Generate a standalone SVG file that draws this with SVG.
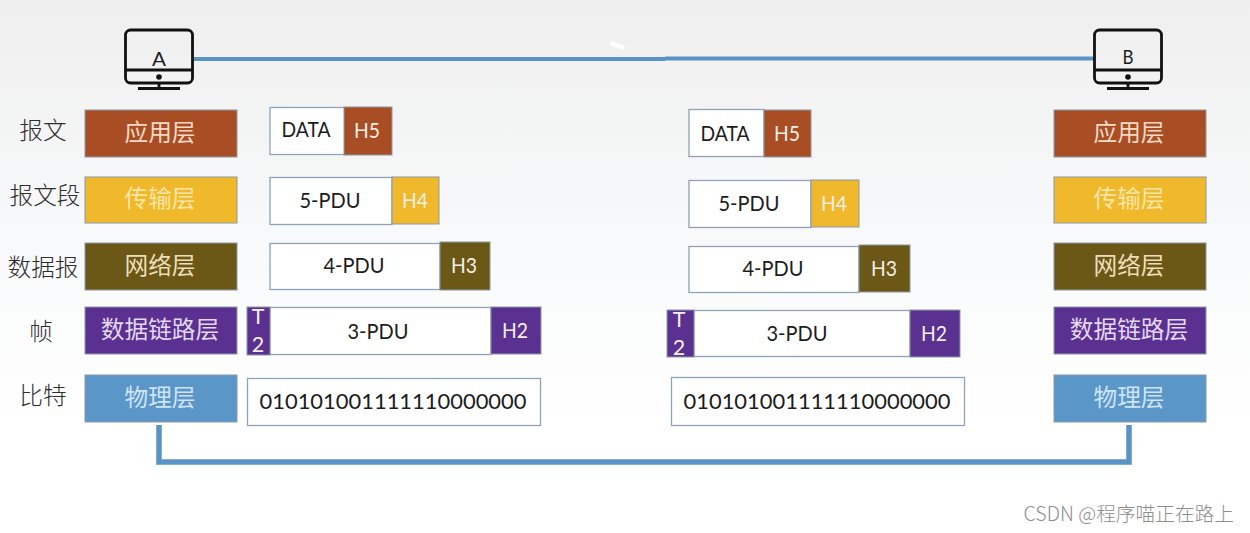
<svg xmlns="http://www.w3.org/2000/svg" width="1250" height="533" viewBox="0 0 1250 533">
<style>
.lat{font-family:Lato,"Open Sans",sans-serif;font-size:21.5px;text-anchor:middle;fill:#1c1c1c}
.hd{fill:#f4efe6}
.zh{font-family:"Noto Sans CJK SC",sans-serif;font-size:23.700px;text-anchor:middle}
.side{fill:#2e2e2e;font-weight:300}
.lay{stroke:#8a98a8;stroke-width:1}
.box{fill:#fff;stroke:#8ea3b8;stroke-width:1.3}
.wire{fill:none;stroke:#5a93c5;stroke-linejoin:miter}
.pc{fill:none;stroke:#111;stroke-width:2.800}
.red{fill:#a94e24}.yel{fill:#f0b92c}.brn{fill:#6b5716}.pur{fill:#5a3090}.blu{fill:#5b96c9}
.tr{fill:#f7d9c4}.ty{fill:#fbe6a6}.tb{fill:#ecdfb8}.tp{fill:#e3d8f0}.tu{fill:#cfe4f6}
</style>
<defs>
<linearGradient id="bg" x1="0" y1="0" x2="0" y2="1"><stop offset="0" stop-color="#efefef"/><stop offset="0.45" stop-color="#f8f9fa"/><stop offset="0.8" stop-color="#ffffff"/></linearGradient>
<g id="monitor">
<rect x="-33.500" y="-28" width="67" height="53" rx="5" class="pc"/>
<path d="M-33.500 12H33.500M0 25V30M-21 30.500H21" class="pc"/>
<circle cx="0" cy="19" r="2.800" fill="#111"/>
</g>
</defs>
<rect width="1250" height="533" fill="url(#bg)"/>
<g id="connectors">
<path class="wire" stroke-width="4" d="M194 59H665"/>
<path class="wire" stroke-width="4" d="M665 58.500H1094"/>
<path class="wire" stroke-width="5.500" d="M159 425V462H1129V425"/>
<path d="M610 43L624 48" stroke="#fff" stroke-width="4" fill="none"/>
</g>
<g id="pc-a"><use href="#monitor" x="159" y="58"/><text class="lat" x="159" y="66" style="font-size:19.500px" textLength="14" lengthAdjust="spacingAndGlyphs">A</text></g>
<g id="pc-b"><use href="#monitor" x="1128" y="58"/><text class="lat" x="1128" y="63.500" style="font-size:19.500px" textLength="11" lengthAdjust="spacingAndGlyphs">B</text></g>

<g id="labels-left">
<text class="zh side" x="43" y="139">报文</text>
<text class="zh side" x="45" y="204">报文段</text>
<text class="zh side" x="43" y="276">数据报</text>
<text class="zh side" x="41" y="340">帧</text>
<text class="zh side" x="43" y="404">比特</text>
</g>

<g id="a-app"><rect class="lay red" x="85" y="110" width="152" height="47"/><text class="zh tr" x="160" y="141">应用层</text></g>
<g id="a-trans"><rect class="lay yel" x="85" y="177" width="152" height="46"/><text class="zh ty" x="160" y="207">传输层</text></g>
<g id="a-net"><rect class="lay brn" x="85" y="243" width="152" height="47"/><text class="zh tb" x="160" y="274">网络层</text></g>
<g id="a-link"><rect class="lay pur" x="85" y="307" width="152" height="47"/><text class="zh tp" x="160" y="338">数据链路层</text></g>
<g id="a-phys"><rect class="lay blu" x="85" y="375" width="152" height="47"/><text class="zh tu" x="160" y="406">物理层</text></g>

<g id="b-app"><rect class="lay red" x="1054" y="110" width="152" height="47"/><text class="zh tr" x="1129" y="141">应用层</text></g>
<g id="b-trans"><rect class="lay yel" x="1054" y="177" width="152" height="46"/><text class="zh ty" x="1129" y="207">传输层</text></g>
<g id="b-net"><rect class="lay brn" x="1054" y="243" width="152" height="47"/><text class="zh tb" x="1129" y="274">网络层</text></g>
<g id="b-link"><rect class="lay pur" x="1054" y="307" width="152" height="47"/><text class="zh tp" x="1129" y="338">数据链路层</text></g>
<g id="b-phys"><rect class="lay blu" x="1054" y="375" width="152" height="47"/><text class="zh tu" x="1129" y="406">物理层</text></g>

<g id="a-pdu5"><rect class="box" x="270" y="107.500" width="75" height="47"/><rect class="lay red" x="344" y="107" width="48" height="48"/><text class="lat" x="306" y="137" textLength="49" lengthAdjust="spacingAndGlyphs">DATA</text><text class="lat hd" x="367" y="138" textLength="26" lengthAdjust="spacingAndGlyphs">H5</text></g>
<g id="a-pdu4"><rect class="box" x="270" y="177.500" width="122" height="47"/><rect class="lay yel" x="392" y="177" width="47" height="47"/><text class="lat" x="330" y="208" textLength="61" lengthAdjust="spacingAndGlyphs">5-PDU</text><text class="lat hd" x="415" y="208" textLength="26" lengthAdjust="spacingAndGlyphs">H4</text></g>
<g id="a-pdu3"><rect class="box" x="270" y="243.500" width="170" height="46"/><rect class="lay brn" x="440" y="242" width="50" height="48"/><text class="lat" x="354" y="273" textLength="61" lengthAdjust="spacingAndGlyphs">4-PDU</text><text class="lat hd" x="464" y="273" textLength="26" lengthAdjust="spacingAndGlyphs">H3</text></g>
<g id="a-pdu2"><rect class="box" x="270" y="307.500" width="221" height="47"/><rect class="lay pur" x="247" y="307" width="23" height="48"/><rect class="lay pur" x="491" y="307" width="50" height="47"/><text class="lat" x="378" y="339" textLength="61" lengthAdjust="spacingAndGlyphs">3-PDU</text><text class="lat hd" x="258" y="324">T</text><text class="lat hd" x="258" y="352">2</text><text class="lat hd" x="515" y="338" textLength="26" lengthAdjust="spacingAndGlyphs">H2</text></g>
<g id="a-bits"><rect class="box" x="247.500" y="378.500" width="293" height="47"/><text class="lat" x="393" y="409" textLength="267" lengthAdjust="spacingAndGlyphs">010101001111110000000</text></g>

<g id="b-pdu5"><rect class="box" x="689" y="109.500" width="75" height="47"/><rect class="lay red" x="764" y="110" width="47" height="47"/><text class="lat" x="725" y="141" textLength="49" lengthAdjust="spacingAndGlyphs">DATA</text><text class="lat hd" x="787" y="141" textLength="26" lengthAdjust="spacingAndGlyphs">H5</text></g>
<g id="b-pdu4"><rect class="box" x="689" y="180.500" width="122" height="47"/><rect class="lay yel" x="811" y="180" width="48" height="47"/><text class="lat" x="749" y="211" textLength="61" lengthAdjust="spacingAndGlyphs">5-PDU</text><text class="lat hd" x="834" y="211" textLength="26" lengthAdjust="spacingAndGlyphs">H4</text></g>
<g id="b-pdu3"><rect class="box" x="689" y="246.500" width="170" height="46"/><rect class="lay brn" x="859" y="245" width="51" height="47"/><text class="lat" x="773" y="276" textLength="61" lengthAdjust="spacingAndGlyphs">4-PDU</text><text class="lat hd" x="884" y="276" textLength="26" lengthAdjust="spacingAndGlyphs">H3</text></g>
<g id="b-pdu2"><rect class="box" x="694" y="310.500" width="216" height="46"/><rect class="lay pur" x="667" y="310" width="27" height="47"/><rect class="lay pur" x="910" y="310" width="50" height="47"/><text class="lat" x="797" y="341" textLength="61" lengthAdjust="spacingAndGlyphs">3-PDU</text><text class="lat hd" x="679" y="327">T</text><text class="lat hd" x="679" y="355">2</text><text class="lat hd" x="934" y="341" textLength="26" lengthAdjust="spacingAndGlyphs">H2</text></g>
<g id="b-bits"><rect class="box" x="671.500" y="377.500" width="293" height="48"/><text class="lat" x="817" y="409" textLength="267" lengthAdjust="spacingAndGlyphs">010101001111110000000</text></g>

<text id="watermark" x="1234" y="521" text-anchor="end" font-family="'Noto Sans CJK SC',sans-serif" font-size="19.700" fill="#8e8e8e" font-weight="300">CSDN @程序喵正在路上</text>
</svg>
